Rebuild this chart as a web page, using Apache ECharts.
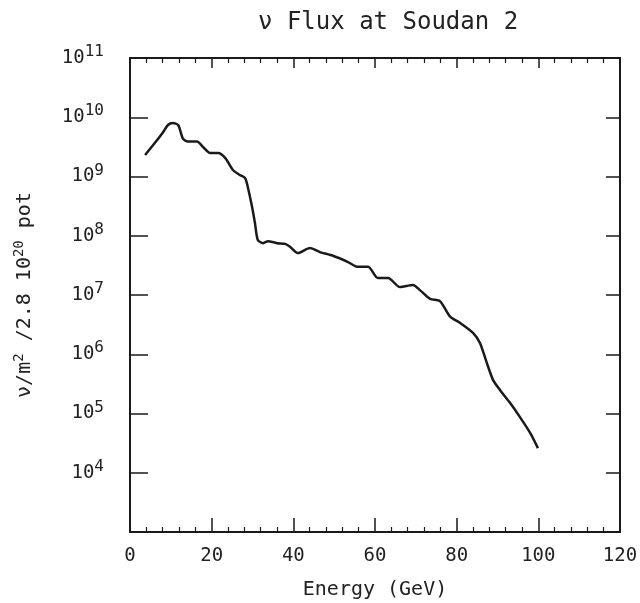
<!DOCTYPE html>
<html>
<head>
<meta charset="utf-8">
<script src="https://cdn.jsdelivr.net/npm/echarts@6/dist/echarts.min.js"></script>
<style>html,body{margin:0;padding:0;background:#fff;}#c{width:640px;height:603px;}</style>
</head>
<body>
<div id="c"></div>
<script>
const energy = [3.7, 6.1, 8.1, 9.3, 10.5, 11.8, 13.0, 14.2, 16.4, 17.9, 19.6, 21.6, 23.3, 25.2, 26.9, 28.2, 28.9, 29.9, 30.6, 31.3, 32.6, 33.8, 36.0, 38.0, 39.2, 41.1, 44.1, 46.5, 49.7, 53.4, 55.6, 58.3, 60.7, 63.2, 66.1, 69.3, 71.0, 73.5, 75.9, 78.4, 80.8, 84.0, 85.7, 87.4, 88.9, 90.6, 93.1, 95.5, 98.0, 99.9];
const flux = [2.3e9, 3.7e9, 5.6e9, 7.4e9, 8.0e9, 7.4e9, 4.3e9, 3.9e9, 3.9e9, 3.15e9, 2.5e9, 2.5e9, 2.06e9, 1.29e9, 1.06e9, 9.4e8, 6.4e8, 3.05e8, 1.64e8, 8.5e7, 7.5e7, 8.1e7, 7.5e7, 7.3e7, 6.5e7, 5.1e7, 6.2e7, 5.3e7, 4.6e7, 3.6e7, 3.0e7, 3.0e7, 1.94e7, 1.94e7, 1.36e7, 1.48e7, 1.21e7, 8.6e6, 7.9e6, 4.3e6, 3.4e6, 2.3e6, 1.55e6, 7.1e5, 3.7e5, 2.5e5, 1.5e5, 8.7e4, 4.7e4, 2.6e4];
const xTicks = [0, 20, 40, 60, 80, 100, 120];
const yExponents = [4, 5, 6, 7, 8, 9, 10, 11];

const chart = echarts.init(document.getElementById('c'), null, {renderer: 'canvas'});
const font = 'DejaVu Sans Mono';
const ink = '#1a1a1a';
const lineStyle = {color: ink, width: 2};
chart.setOption({
  backgroundColor: '#fff',
  animation: false,
  title: {
    text: 'ν Flux at Soudan 2',
    left: 253, top: 6,
    textStyle: {fontFamily: font, fontSize: 24, fontWeight: 'normal', color: '#222'}
  },
  grid: {left: 130, right: 20, top: 58, bottom: 71, outerBoundsMode: 'none', containLabel: false},
  xAxis: [{
    type: 'value', min: 0, max: 120, interval: 20, position: 'bottom',
    name: 'Energy (GeV)', nameLocation: 'middle', nameGap: 48,
    nameTextStyle: {fontFamily: font, fontSize: 20, color: '#222'},
    axisLine: {show: true, onZero: false, lineStyle: lineStyle},
    axisTick: {show: true, inside: true, length: 14, lineStyle: {color: ink, width: 1.5}},
    minorTick: {show: true, splitNumber: 5, length: 5, lineStyle: {color: ink, width: 1.2}},
    splitLine: {show: false},
    axisLabel: {fontFamily: font, fontSize: 19, color: '#222', margin: 15,
      formatter: v => xTicks.includes(v) ? String(v) : ''}
  }, {
    type: 'value', min: 0, max: 120, interval: 20, position: 'top',
    axisLine: {show: true, onZero: false, lineStyle: lineStyle},
    axisTick: {show: true, inside: true, length: 10, lineStyle: {color: ink, width: 1.5}},
    minorTick: {show: true, splitNumber: 5, length: 5, lineStyle: {color: ink, width: 1.2}},
    splitLine: {show: false},
    axisLabel: {show: false}
  }],
  yAxis: [{
    type: 'log', logBase: 10, min: 1e3, max: 1e11, interval: 1, position: 'left',
    name: '{a|ν/m}{s|2}{a| /2.8 10}{s|20}{a| pot}', nameLocation: 'middle', nameGap: 92, nameRotate: 90,
    nameTextStyle: {
      fontFamily: font, fontSize: 20, color: '#222',
      rich: {
        a: {fontFamily: font, fontSize: 20, color: '#222'},
        s: {fontFamily: font, fontSize: 14, color: '#222', padding: [0, 0, 12, 0]}
      }
    },
    axisLine: {show: true, onZero: false, lineStyle: lineStyle},
    axisTick: {show: true, inside: true, length: 18, lineStyle: {color: ink, width: 1.5}},
    splitLine: {show: false},
    axisLabel: {
      margin: 26, color: '#222',
      formatter: v => {
        const e = Math.round(Math.log10(v));
        return yExponents.includes(e) ? '{b|10}{e|' + e + '}' : '';
      },
      rich: {
        b: {fontFamily: font, fontSize: 19, color: '#222'},
        e: {fontFamily: font, fontSize: 16, color: '#222', padding: [0, 0, 12, 0]}
      }
    }
  }, {
    type: 'log', logBase: 10, min: 1e3, max: 1e11, interval: 1, position: 'right',
    axisLine: {show: true, onZero: false, lineStyle: lineStyle},
    axisTick: {show: true, inside: true, length: 14, lineStyle: {color: ink, width: 1.5}},
    splitLine: {show: false},
    axisLabel: {show: false}
  }],
  series: [{
    type: 'line',
    xAxisIndex: 0, yAxisIndex: 0,
    data: energy.map((e, i) => [e, flux[i]]),
    showSymbol: false,
    smooth: 0.25,
    lineStyle: {color: ink, width: 2.5}
  }]
});
</script>
</body>
</html>
